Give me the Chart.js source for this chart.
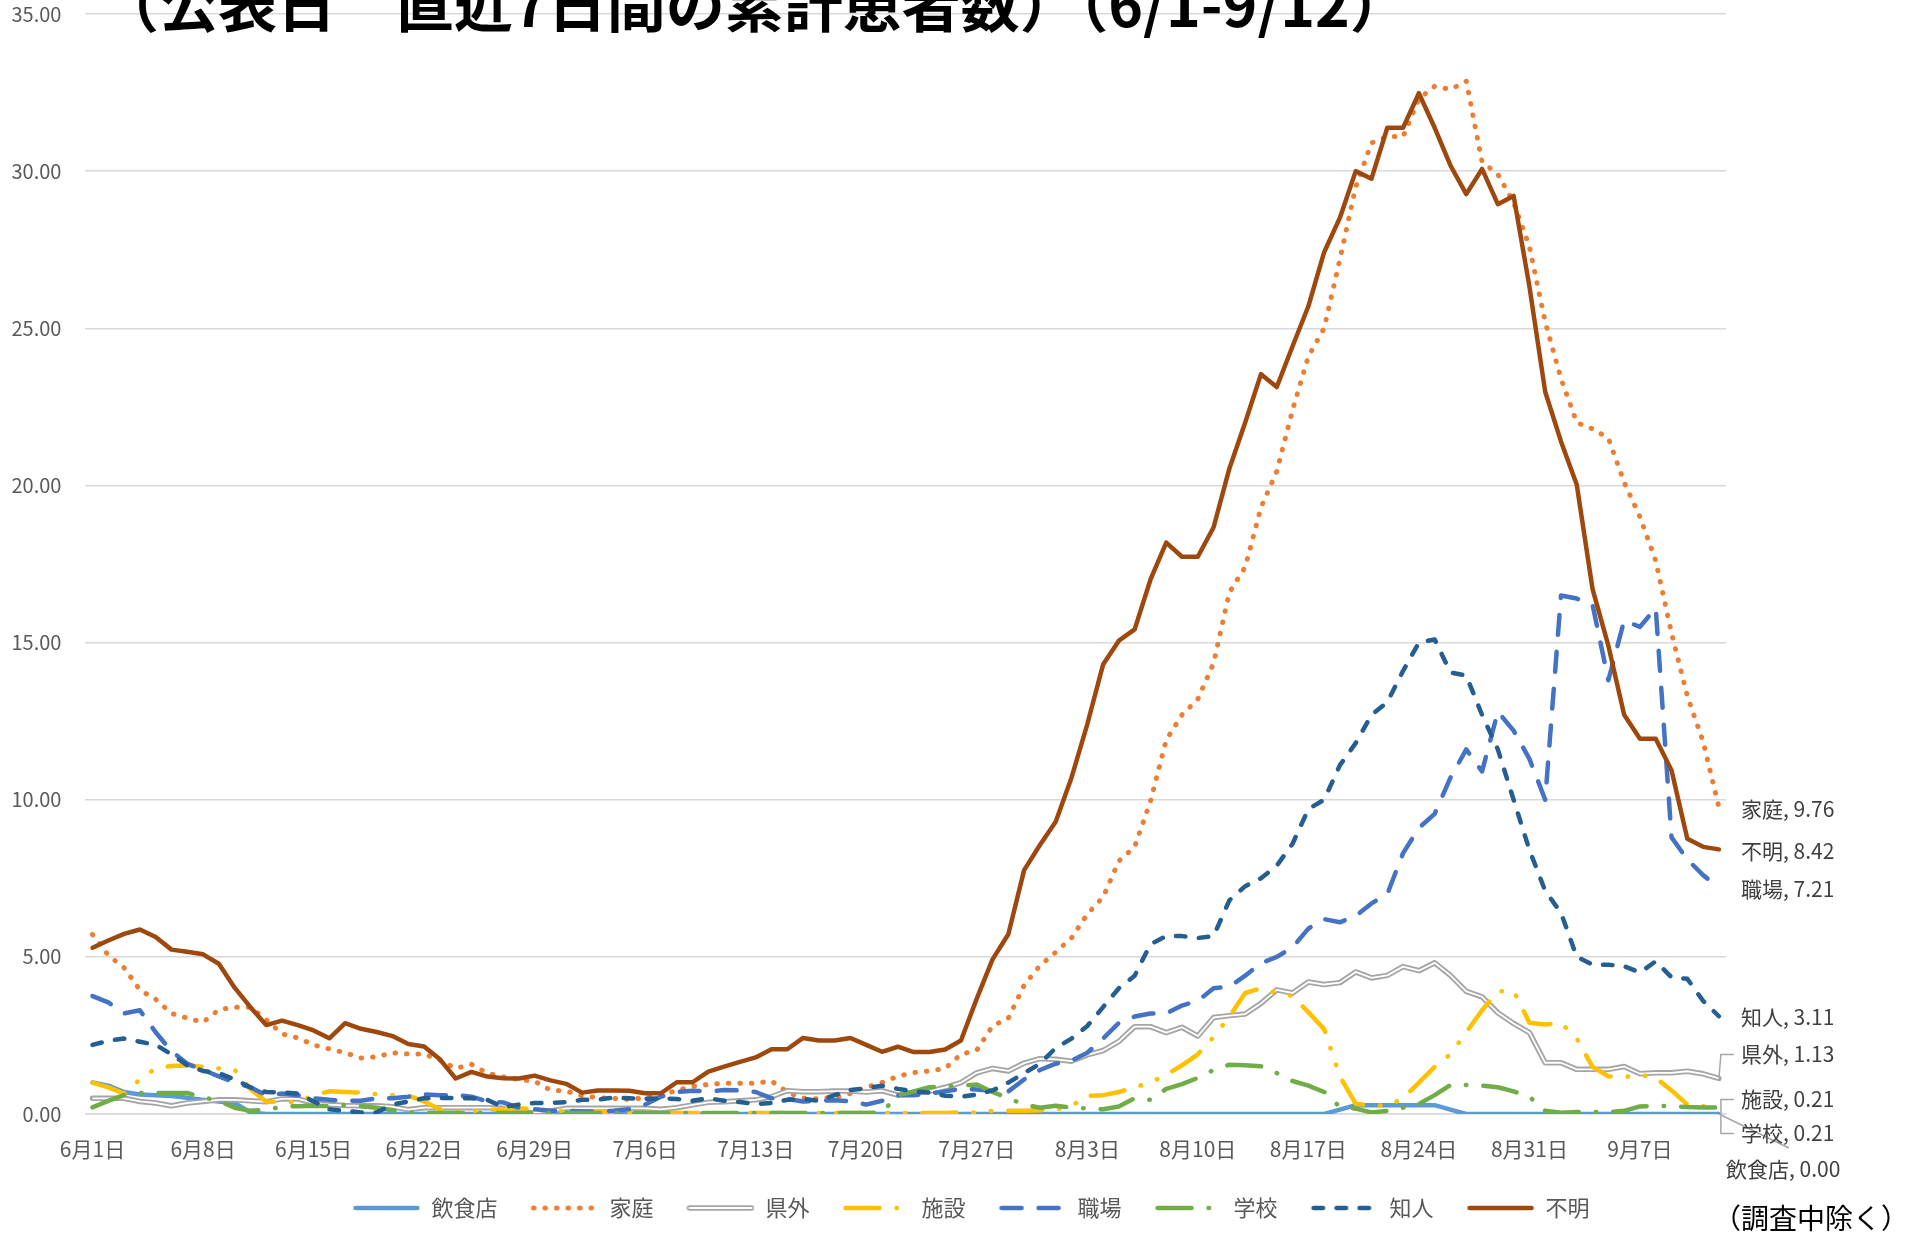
<!DOCTYPE html>
<html lang="ja">
<head>
<meta charset="utf-8">
<title>感染経路別 直近7日間の累計患者数</title>
<script src="https://cdn.jsdelivr.net/npm/chart.js@4.4.1/dist/chart.umd.min.js"></script>
<style>
html, body { margin: 0; padding: 0; background: #fff; }
#wrap { width: 1919px; height: 1235px; position: relative; }
</style>
</head>
<body>
<div id="wrap"><canvas id="myChart" width="1919" height="1235"></canvas></div>
<script>
'use strict';

// 公表日（6/1-9/12）
const dates = [
	'6月1日','6月2日','6月3日','6月4日','6月5日','6月6日','6月7日','6月8日','6月9日','6月10日',
	'6月11日','6月12日','6月13日','6月14日','6月15日','6月16日','6月17日','6月18日','6月19日','6月20日',
	'6月21日','6月22日','6月23日','6月24日','6月25日','6月26日','6月27日','6月28日','6月29日','6月30日',
	'7月1日','7月2日','7月3日','7月4日','7月5日','7月6日','7月7日','7月8日','7月9日','7月10日',
	'7月11日','7月12日','7月13日','7月14日','7月15日','7月16日','7月17日','7月18日','7月19日','7月20日',
	'7月21日','7月22日','7月23日','7月24日','7月25日','7月26日','7月27日','7月28日','7月29日','7月30日',
	'7月31日','8月1日','8月2日','8月3日','8月4日','8月5日','8月6日','8月7日','8月8日','8月9日',
	'8月10日','8月11日','8月12日','8月13日','8月14日','8月15日','8月16日','8月17日','8月18日','8月19日',
	'8月20日','8月21日','8月22日','8月23日','8月24日','8月25日','8月26日','8月27日','8月28日','8月29日',
	'8月30日','8月31日','9月1日','9月2日','9月3日','9月4日','9月5日','9月6日','9月7日','9月8日',
	'9月9日','9月10日','9月11日','9月12日'
];
const tickLabels = ['6月1日','6月8日','6月15日','6月22日','6月29日','7月6日','7月13日','7月20日',
	'7月27日','8月3日','8月10日','8月17日','8月24日','8月31日','9月7日'];
const yTicks = [0, 5, 10, 15, 20, 25, 30, 35];

const seriesNames = ['飲食店','家庭','県外','施設','職場','学校','知人','不明'];

const eatery = [
	1.00,0.90,0.70,0.62,0.60,0.57,0.52,0.45,0.40,0.35,
	0.05,0,0,0,0,0,0,0,0,0,
	0,0,0,0,0,0,0,0,0,0,
	0,0,0,0,0,0,0,0,0,0,
	0,0,0,0,0,0,0,0,0,0,
	0,0,0,0,0,0,0,0,0,0,
	0,0,0,0,0,0,0,0,0,0,
	0,0,0,0,0,0,0,0,0,0.14,
	0.28,0.28,0.28,0.28,0.28,0.28,0.14,0,0,0,
	0,0,0,0,0,0,0,0,0,0,
	0,0,0,0];
const household = [
	5.71,5.05,4.65,3.95,3.65,3.20,3.05,2.92,3.32,3.40,
	3.40,3.00,2.55,2.42,2.20,2.07,1.95,1.78,1.82,1.95,
	1.91,1.91,1.72,1.45,1.58,1.30,1.18,1.10,1.04,0.76,
	0.73,0.58,0.52,0.50,0.46,0.52,0.60,0.75,0.88,0.94,
	0.98,0.98,0.98,1.05,0.70,0.50,0.48,0.53,0.65,0.85,
	1.00,1.20,1.32,1.37,1.45,1.90,2.03,2.80,3.05,4.10,
	4.72,5.15,5.60,6.36,6.90,8.05,8.50,9.95,11.90,12.70,
	13.20,14.35,16.60,17.40,19.30,20.45,22.40,24.10,25.00,27.20,
	29.50,30.90,31.10,31.10,32.30,32.70,32.60,32.86,30.30,29.90,
	29.00,27.60,25.20,23.40,22.00,21.80,21.50,20.10,19.00,17.60,
	15.30,13.30,11.85,9.76];
const outOfPref = [
	0.50,0.50,0.50,0.40,0.35,0.26,0.35,0.40,0.45,0.45,
	0.42,0.39,0.48,0.48,0.35,0.30,0.27,0.26,0.26,0.23,
	0.14,0.20,0.20,0.20,0.20,0.20,0.18,0.03,0.05,0.10,
	0.18,0.18,0.18,0.18,0.18,0.18,0.15,0.20,0.29,0.37,
	0.39,0.42,0.45,0.55,0.74,0.71,0.71,0.73,0.73,0.70,
	0.74,0.60,0.66,0.72,0.85,1.00,1.31,1.45,1.37,1.62,
	1.76,1.74,1.68,1.88,2.02,2.31,2.78,2.78,2.59,2.76,
	2.48,3.07,3.13,3.18,3.52,3.95,3.85,4.20,4.12,4.18,
	4.52,4.33,4.41,4.69,4.56,4.81,4.41,3.90,3.73,3.22,
	2.88,2.59,1.63,1.63,1.42,1.42,1.42,1.51,1.28,1.31,
	1.31,1.36,1.28,1.13];
const facility = [
	1.00,0.85,0.65,1.10,1.45,1.53,1.55,1.50,1.45,1.41,
	0.79,0.40,0.38,0.37,0.60,0.72,0.70,0.68,0.63,0.60,
	0.58,0.40,0.15,0.07,0.10,0.12,0.16,0.18,0.16,0.10,
	0.10,0.08,0.08,0.05,0.05,0.05,0.03,0.03,0.03,0.03,
	0.03,0.03,0.03,0.03,0.03,0.03,0.03,0.03,0.03,0.03,
	0.03,0.03,0.03,0.03,0.03,0.05,0.05,0.10,0.10,0.10,
	0.12,0.15,0.25,0.58,0.60,0.70,0.85,1.00,1.25,1.55,
	1.90,2.45,3.10,3.85,4.00,3.85,3.76,3.24,2.70,1.20,
	0.32,0.28,0.26,0.50,1.00,1.50,1.90,2.60,3.30,3.90,
	3.92,2.90,2.85,2.90,2.40,1.50,1.20,1.17,1.25,1.15,
	0.75,0.30,0.25,0.21];
const workplace = [
	3.75,3.55,3.20,3.30,2.60,2.00,1.60,1.40,1.20,1.00,
	0.85,0.60,0.65,0.60,0.50,0.45,0.42,0.42,0.50,0.50,
	0.55,0.62,0.60,0.60,0.55,0.40,0.37,0.20,0.15,0.10,
	0.10,0.08,0.08,0.10,0.15,0.30,0.55,0.70,0.74,0.72,
	0.76,0.75,0.70,0.50,0.48,0.40,0.42,0.44,0.40,0.30,
	0.42,0.60,0.60,0.65,0.72,0.80,0.78,0.74,0.72,1.10,
	1.40,1.60,1.70,1.95,2.40,2.90,3.10,3.20,3.20,3.45,
	3.60,4.00,4.05,4.40,4.80,5.00,5.30,5.90,6.20,6.10,
	6.30,6.70,7.00,8.30,9.10,9.55,10.70,11.60,10.90,12.80,
	12.20,11.30,10.00,16.50,16.40,16.20,13.80,15.70,15.50,16.10,
	8.80,8.10,7.60,7.21];
const school = [
	0.21,0.42,0.60,0.67,0.67,0.67,0.67,0.53,0.42,0.20,
	0.10,0.14,0.23,0.25,0.26,0.25,0.29,0.25,0.20,0.12,
	0.05,0.03,0.03,0.03,0.03,0.03,0.03,0.03,0.03,0.03,
	0.03,0.03,0.03,0.03,0.03,0.03,0.03,0.03,0.03,0.03,
	0.03,0.03,0.03,0.03,0.03,0.03,0.03,0.03,0.03,0.03,
	0.05,0.60,0.72,0.85,0.88,0.90,0.94,0.70,0.50,0.30,
	0.20,0.26,0.20,0.18,0.15,0.24,0.50,0.45,0.80,0.95,
	1.15,1.40,1.57,1.55,1.52,1.30,1.05,0.90,0.70,0.22,
	0.17,0.05,0.10,0.20,0.32,0.60,0.92,0.92,0.90,0.85,
	0.72,0.55,0.10,0.04,0.06,0.06,0.06,0.10,0.24,0.26,
	0.25,0.22,0.21,0.21];
const acquaintance = [
	2.20,2.33,2.40,2.30,2.20,1.90,1.55,1.37,1.30,1.10,
	0.85,0.70,0.69,0.65,0.40,0.15,0.10,0.05,0.05,0.30,
	0.40,0.50,0.51,0.51,0.50,0.45,0.22,0.30,0.35,0.35,
	0.38,0.45,0.46,0.52,0.50,0.48,0.50,0.48,0.42,0.50,
	0.42,0.38,0.32,0.35,0.45,0.48,0.42,0.60,0.76,0.82,
	0.90,0.80,0.72,0.68,0.58,0.55,0.62,0.75,1.00,1.30,
	1.60,2.10,2.40,2.80,3.40,4.00,4.40,5.40,5.66,5.66,
	5.60,5.66,6.80,7.25,7.50,7.90,8.60,9.70,10.00,11.10,
	11.80,12.70,13.10,14.10,15.00,15.10,14.05,13.95,12.70,11.60,
	10.00,8.40,7.10,6.40,5.00,4.75,4.75,4.70,4.50,4.86,
	4.35,4.30,3.60,3.11];
const unknown = [
	5.29,5.52,5.73,5.87,5.63,5.23,5.16,5.08,4.78,4.02,
	3.40,2.83,2.97,2.83,2.66,2.41,2.89,2.71,2.61,2.48,
	2.23,2.15,1.74,1.13,1.34,1.19,1.14,1.13,1.22,1.07,
	0.96,0.68,0.75,0.75,0.74,0.66,0.66,1.01,1.01,1.35,
	1.51,1.66,1.80,2.06,2.06,2.42,2.34,2.34,2.42,2.20,
	1.98,2.14,1.97,1.97,2.05,2.34,3.67,4.92,5.72,7.76,
	8.56,9.30,10.70,12.40,14.30,15.06,15.42,17.00,18.18,17.73,
	17.73,18.67,20.54,22.00,23.54,23.13,24.43,25.70,27.42,28.52,
	30.00,29.76,31.38,31.38,32.48,31.38,30.18,29.27,30.07,28.95,
	29.21,26.33,22.98,21.40,20.02,16.70,14.90,12.70,11.94,11.94,
	10.94,8.76,8.50,8.42];

const seriesValues = [eatery, household, outOfPref, facility, workplace, school, acquaintance, unknown];

// styles (Excel-like)
const FONT = '"Noto Sans CJK JP", "Noto Sans", sans-serif';
const seriesColors = ['#5B9BD5','#ED7D31','#A5A5A5','#FFC000','#4472C4','#70AD47','#255E91','#9E480E'];
const seriesWidth = [4.5, 5, 5.5, 4.5, 4.5, 4.5, 4.5, 4.5];
const seriesDash = [[], [0.5, 11], [], [34, 17, 0.5, 17, 0.5, 17], [20, 17], [34, 17, 0.5, 17], [9.5, 13.5], []];
// end-of-line label nudges (px) : vertical, horizontal from plot edge
const labelDy = [55, 2, -24, -8, 2, 26, 1, 2];
const labelDx = [0, 15, 15, 15, 15, 15, 15, 15];

Chart.defaults.font.family = FONT;

function legendIcon(k) {
	const c = document.createElement('canvas');
	c.width = 91; c.height = 12;
	const g = c.getContext('2d');
	g.lineCap = 'round';
	g.strokeStyle = seriesColors[k];
	g.lineWidth = seriesWidth[k];
	g.setLineDash(seriesDash[k]);
	g.beginPath(); g.moveTo(26, 6); g.lineTo(88, 6); g.stroke();
	if (k === 2) {
		g.strokeStyle = '#fff'; g.lineWidth = 1.8; g.setLineDash([]);
		g.beginPath(); g.moveTo(26, 6); g.lineTo(88, 6); g.stroke();
	}
	return c;
}
const icons = seriesNames.map((n, k) => legendIcon(k));

const datasets = seriesNames.map(function(name, k) {
	return {
		label: name,
		data: seriesValues[k].map((v, i) => ({x: i, y: v})),
		borderColor: seriesColors[k],
		borderWidth: seriesWidth[k],
		borderDash: seriesDash[k],
		borderCapStyle: 'round',
		borderJoinStyle: 'round',
		pointRadius: 0,
		tension: 0,
		fill: false,
		order: 20 - 2 * k
	};
});
// white core for the double line of 県外
datasets.push({
	label: '',
	data: outOfPref.map((v, i) => ({x: i, y: v})),
	borderColor: '#ffffff',
	borderWidth: 1.8,
	borderJoinStyle: 'round',
	pointRadius: 0,
	tension: 0,
	fill: false,
	order: 15
});

const extrasPlugin = {
	id: 'extras',
	afterDatasetsDraw(chart) {
		const ctx = chart.ctx;
		const area = chart.chartArea;
		const xs = chart.scales.x, ys = chart.scales.y;
		const last = dates.length - 1;
		const px = xs.getPixelForValue(last);
		const py = seriesValues.map(s => ys.getPixelForValue(s[last]));
		const stub = area.right + 8;

		ctx.save();
		// leader lines
		ctx.strokeStyle = '#A6A6A6';
		ctx.lineWidth = 1.5;
		ctx.setLineDash([]);
		ctx.beginPath();
		ctx.moveTo(px, py[2]); ctx.lineTo(px + 2, py[2] + labelDy[2]); ctx.lineTo(stub, py[2] + labelDy[2]);
		ctx.moveTo(stub, py[3] + labelDy[3]); ctx.lineTo(px + 2, py[3] + labelDy[3]);
		ctx.lineTo(px + 2, py[5] + labelDy[5]); ctx.lineTo(stub, py[5] + labelDy[5]);
		ctx.moveTo(px, py[0]); ctx.lineTo(px + 70, py[0] + 34);
		ctx.stroke();

		// data labels
		ctx.font = '21px ' + FONT;
		ctx.fillStyle = '#404040';
		ctx.textAlign = 'left';
		ctx.textBaseline = 'middle';
		seriesNames.forEach(function(name, k) {
			const v = seriesValues[k][last];
			ctx.fillText(name + ', ' + v.toFixed(2), area.right + labelDx[k], py[k] + labelDy[k]);
		});
		ctx.restore();
	},
	afterDraw(chart) {
		const ctx = chart.ctx;
		ctx.save();
		ctx.fillStyle = '#000';
		ctx.textAlign = 'left';
		ctx.textBaseline = 'alphabetic';
		ctx.font = 'bold 59px ' + FONT;
		ctx.fillText('（公表日　直近7日間の累計患者数）（6/1-9/12）', 100, 27);
		ctx.font = '28px ' + FONT;
		ctx.textBaseline = 'middle';
		ctx.fillText('（調査中除く）', 1713, 1218);
		ctx.restore();
	}
};

const ctx = document.getElementById('myChart');
const myChart = new Chart(ctx, {
	type: 'line',
	data: { datasets: datasets },
	options: {
		responsive: false,
		animation: false,
		devicePixelRatio: 1,
		layout: { padding: { left: 0, right: 0, top: 14, bottom: 6 } },
		plugins: {
			tooltip: { enabled: false },
			legend: {
				position: 'bottom',
				labels: {
					usePointStyle: true,
					pointStyleWidth: 91,
					padding: 10,
					color: '#595959',
					font: { size: 22, family: FONT },
					generateLabels: function() {
						return seriesNames.map(function(name, k) {
							return {
								text: name,
								fontColor: '#595959',
								pointStyle: icons[k],
								hidden: false,
								lineWidth: 0,
								strokeStyle: 'rgba(0,0,0,0)',
								fillStyle: 'rgba(0,0,0,0)',
								datasetIndex: k
							};
						});
					}
				}
			}
		},
		scales: {
			x: {
				type: 'linear',
				min: -0.45,
				max: dates.length - 1 + 0.45,
				afterBuildTicks: function(axis) {
					axis.ticks = tickLabels.map(t => ({ value: dates.indexOf(t) }));
				},
				afterFit: function(axis) {
					axis.height = 73;
					axis.paddingLeft = 0; axis.paddingRight = 0;
				},
				ticks: {
					autoSkip: false,
					maxRotation: 0,
					padding: 22,
					color: '#595959',
					font: { size: 21, family: FONT },
					callback: function(v) { return dates[v]; }
				},
				grid: { display: false, drawTicks: false },
				border: { display: true, color: '#D9D9D9', width: 1.5 }
			},
			y: {
				min: 0,
				max: 35,
				afterBuildTicks: function(axis) {
					axis.ticks = yTicks.map(v => ({ value: v }));
				},
				afterFit: function(axis) {
					axis.width = 85.4;
					axis.paddingTop = 0; axis.paddingBottom = 0;
				},
				ticks: {
					padding: 24,
					color: '#595959',
					font: { size: 20, family: FONT },
					callback: function(v) { return v.toFixed(2); }
				},
				grid: { color: '#D9D9D9', lineWidth: 1.5, drawTicks: false },
				border: { display: false }
			},
			yRight: {
				position: 'right',
				display: true,
				min: 0,
				max: 35,
				afterFit: function(axis) {
					axis.width = 193;
					axis.paddingTop = 0; axis.paddingBottom = 0;
				},
				ticks: { display: false },
				grid: { display: false, drawTicks: false },
				border: { display: false }
			}
		}
	},
	plugins: [extrasPlugin]
});
</script>
</body>
</html>
